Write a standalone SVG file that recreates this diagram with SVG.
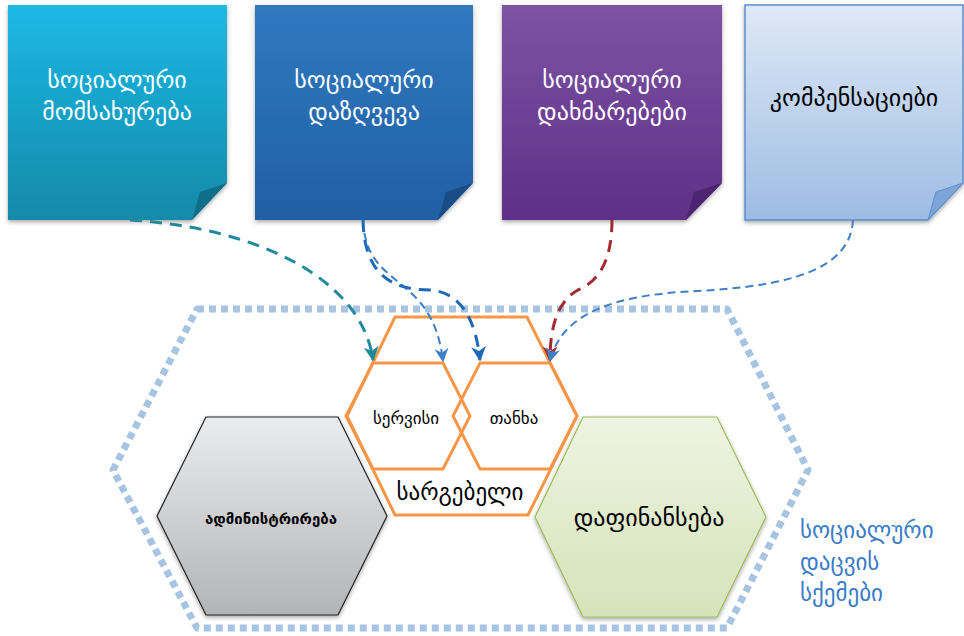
<svg xmlns="http://www.w3.org/2000/svg" width="964" height="636" viewBox="0 0 964 636">
<defs>
<linearGradient id="gCyan" x1="0" y1="0" x2="0" y2="1"><stop offset="0" stop-color="#1bb9e6"/><stop offset="1" stop-color="#1589a8"/></linearGradient>
<linearGradient id="gBlue" x1="0" y1="0" x2="0" y2="1"><stop offset="0" stop-color="#3079c0"/><stop offset="1" stop-color="#215fa3"/></linearGradient>
<linearGradient id="gPurple" x1="0" y1="0" x2="0" y2="1"><stop offset="0" stop-color="#7c53a4"/><stop offset="1" stop-color="#5f2f86"/></linearGradient>
<linearGradient id="gLight" x1="0" y1="0" x2="0" y2="1"><stop offset="0" stop-color="#dfe9f6"/><stop offset="1" stop-color="#9dbce3"/></linearGradient>
<linearGradient id="gGray" x1="0" y1="0" x2="0" y2="1"><stop offset="0" stop-color="#ebeced"/><stop offset="1" stop-color="#b3b4b6"/></linearGradient>
<linearGradient id="gGreen" x1="0" y1="0" x2="0" y2="1"><stop offset="0" stop-color="#eef4e2"/><stop offset="1" stop-color="#d5e3b9"/></linearGradient>
<filter id="sh" x="-10%" y="-10%" width="120%" height="125%"><feDropShadow dx="0" dy="2" stdDeviation="2" flood-color="#000" flood-opacity="0.35"/></filter>
<marker id="aTeal" viewBox="0 0 10 10" refX="9" refY="5" markerWidth="5" markerHeight="5" orient="auto" markerUnits="strokeWidth"><path d="M0,0 L10,5 L0,10 L3,5 Z" fill="#21899e"/></marker>
<marker id="aBlue" viewBox="0 0 10 10" refX="9" refY="5" markerWidth="7" markerHeight="7" orient="auto" markerUnits="strokeWidth"><path d="M0,0 L10,5 L0,10 L3,5 Z" fill="#3f7fc6"/></marker>
<marker id="aBlue2" viewBox="0 0 10 10" refX="9" refY="5" markerWidth="5" markerHeight="5" orient="auto" markerUnits="strokeWidth"><path d="M0,0 L10,5 L0,10 L3,5 Z" fill="#1d68b8"/></marker>
<marker id="aRed" viewBox="0 0 10 10" refX="9" refY="5" markerWidth="5" markerHeight="5" orient="auto" markerUnits="strokeWidth"><path d="M0,0 L10,5 L0,10 L3,5 Z" fill="#a32c30"/></marker>
</defs>
<style>
.t{font-family:"DejaVu Sans","Noto Sans",sans-serif;text-anchor:middle}
.w{fill:#ffffff;font-size:24px}
.k{fill:#000000}
.hexo{fill:none;stroke:#f79646;stroke-width:3}
.conn{fill:none;stroke-linecap:butt}
.lbl{text-anchor:start;font-size:23px;fill:#3a7cc6}
</style>

<g id="scheme-border">
<path d="M197,309 L727,309 L808,470 L727,628 L197,628 L113,470 Z" fill="none" stroke="#a8c4e3" stroke-width="7" stroke-dasharray="7 5" stroke-linejoin="round"/>
<text class="t lbl" x="800" y="538">სოციალური</text>
<text class="t lbl" x="800" y="570">დაცვის</text>
<text class="t lbl" x="800" y="601">სქემები</text>
</g>

<g id="note-service">
<path d="M8,5 H227 V183 L192,220 H8 Z" fill="url(#gCyan)" filter="url(#sh)"/>
<path d="M192,220 L200,192 L227,183 Z" fill="#0f6e89"/>
<text class="t w" x="117" y="88">სოციალური</text>
<text class="t w" x="117" y="120">მომსახურება</text>
</g>

<g id="note-insurance">
<path d="M255,5 H473 V183 L438,220 H255 Z" fill="url(#gBlue)" filter="url(#sh)"/>
<path d="M438,220 L446,192 L473,183 Z" fill="#1a4c88"/>
<text class="t w" x="364" y="88">სოციალური</text>
<text class="t w" x="364" y="120">დაზღვევა</text>
</g>

<g id="note-assistance">
<path d="M502,5 H722 V183 L686,220 H502 Z" fill="url(#gPurple)" filter="url(#sh)"/>
<path d="M686,220 L694,192 L722,183 Z" fill="#4b2570"/>
<text class="t w" x="612" y="88">სოციალური</text>
<text class="t w" x="612" y="120">დახმარებები</text>
</g>

<g id="note-compensation">
<path d="M745,5 H963 V183 L928,220 H745 Z" fill="url(#gLight)" stroke="#5d8fcf" stroke-width="1.5" filter="url(#sh)"/>
<path d="M928,220 L936,192 L963,183 Z" fill="#7fa4d7" stroke="#5d8fcf" stroke-width="1"/>
<text class="t k" x="854" y="106" style="font-size:24px">კომპენსაციები</text>
</g>

<g id="benefit">
<path class="hexo" d="M395,317 L527,317 L577,416 L528,515 L395,515 L347,416 Z"/>
<text class="t k" x="460" y="500" style="font-size:23px">სარგებელი</text>
</g>

<g id="service">
<path class="hexo" d="M373,363 L443,363 L470,416 L443,469 L373,469 L346,416 Z"/>
<text class="t k" x="406" y="424" style="font-size:17px">სერვისი</text>
</g>

<g id="cash">
<path class="hexo" d="M480,363 L550,363 L577,416 L550,469 L480,469 L453,416 Z"/>
<text class="t k" x="514" y="424" style="font-size:17px">თანხა</text>
</g>

<g id="administration">
<path d="M206,417 L338,417 L387,516 L338,615 L206,615 L157,516 Z" fill="url(#gGray)" stroke="#222" stroke-width="1.2" filter="url(#sh)"/>
<text class="t k" x="271" y="524" style="font-size:15px;font-weight:bold">ადმინისტრირება</text>
</g>

<g id="financing">
<path d="M583,417 L717,417 L766,517 L717,617 L583,617 L535,517 Z" fill="url(#gGreen)" stroke="#9bbb59" stroke-width="1.2" filter="url(#sh)"/>
<text class="t k" x="649" y="526" style="font-size:24px">დაფინანსება</text>
</g>

<g id="connectors">
<path class="conn" d="M130,220 C260,228 362,280 373,360" stroke="#21899e" stroke-width="3" stroke-dasharray="12 8" marker-end="url(#aTeal)"/>
<path class="conn" d="M363,220 C366,292 432,270 443,361" stroke="#3f7fc6" stroke-width="2" stroke-dasharray="8 5" marker-end="url(#aBlue)"/>
<path class="conn" d="M363,220 C364,280 398,290 430,290 C462,292 476,322 480,360" stroke="#1d68b8" stroke-width="3" stroke-dasharray="12 8" marker-end="url(#aBlue2)"/>
<path class="conn" d="M612,220 C612,270 592,284 578,290 C560,300 550,322 550,360" stroke="#a32c30" stroke-width="3" stroke-dasharray="12 8" marker-end="url(#aRed)"/>
<path class="conn" d="M853,220 C850,280 760,288 680,292 C600,298 560,320 550,361" stroke="#3f7fc6" stroke-width="2" stroke-dasharray="8 5" marker-end="url(#aBlue)"/>
</g>
</svg>
